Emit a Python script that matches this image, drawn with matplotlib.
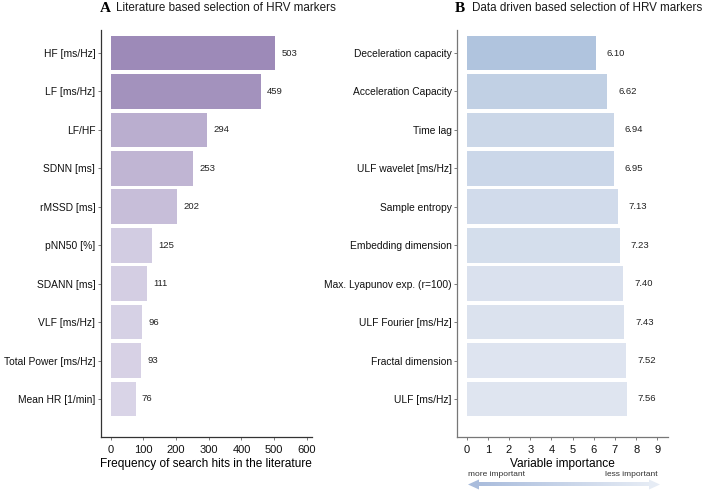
import numpy as np
import matplotlib
matplotlib.use("Agg")
import matplotlib.pyplot as plt
from matplotlib.colors import LinearSegmentedColormap
from matplotlib.patches import Polygon

# ------------------------------------------------------------
# Data
# ------------------------------------------------------------
lit_labels = ["HF [ms/Hz]", "LF [ms/Hz]", "LF/HF", "SDNN [ms]", "rMSSD [ms]",
              "pNN50 [%]", "SDANN [ms]", "VLF [ms/Hz]", "Total Power [ms/Hz]",
              "Mean HR [1/min]"]
lit_hits = [503, 459, 294, 253, 202, 125, 111, 96, 93, 76]

dd_labels = ["Deceleration capacity", "Acceleration Capacity", "Time lag",
             "ULF wavelet [ms/Hz]", "Sample entropy", "Embedding dimension",
             "Max. Lyapunov exp. (r=100)", "ULF Fourier [ms/Hz]",
             "Fractal dimension", "ULF [ms/Hz]"]
dd_importance = [6.10, 6.62, 6.94, 6.95, 7.13, 7.23, 7.40, 7.43, 7.52, 7.56]

lit_ticks = [0, 100, 200, 300, 400, 500, 600]
dd_ticks = [0, 1, 2, 3, 4, 5, 6, 7, 8, 9]

plt.rcParams["font.family"] = ["Liberation Sans", "DejaVu Sans"]

W, H = 708, 490
fig = plt.figure(figsize=(W / 100, H / 100), dpi=100)


def px_axes(x0, x1, y0, y1):
    return fig.add_axes([x0 / W, 1 - y1 / H, (x1 - x0) / W, (y1 - y0) / H])


cmap_lit = LinearSegmentedColormap.from_list("lit", ["#d9d4e7", "#9d8ab8"])
cmap_dd = LinearSegmentedColormap.from_list("dd", ["#b0c4de", "#dfe5f0"])


def panel(ax, labels, values, colors, ticks, xlim, xlabel, fmt, dx, axcol):
    y = np.arange(len(values))
    ax.barh(y, values, height=0.9, color=colors)
    for yi, v in zip(y, values):
        ax.annotate(fmt.format(v), (v, yi), xytext=(dx, 0),
                    textcoords="offset points", va="center", ha="left",
                    fontsize=6.8, color="#222222")
    ax.set_yticks(y)
    ax.set_yticklabels(labels, fontsize=7.4, color="#111111")
    ax.set_xticks(ticks)
    ax.set_xticklabels([str(t) for t in ticks], fontsize=8, color="#111111")
    ax.set_xlim(*xlim)
    ax.set_ylim(len(values) - 1 + 0.99, -0.6)
    ax.set_xlabel(xlabel, fontsize=8.6, labelpad=2)
    for s in ["top", "right"]:
        ax.spines[s].set_visible(False)
    for s in ["left", "bottom"]:
        ax.spines[s].set_color(axcol)
        ax.spines[s].set_linewidth(0.9)
    ax.tick_params(axis="both", length=2, width=0.6, color="#666666", pad=2)
    ax.tick_params(axis="x", pad=4)


vl = np.array(lit_hits, dtype=float)
col_lit = cmap_lit((vl - vl.min()) / (vl.max() - vl.min()))
vd = np.array(dd_importance)
col_dd = cmap_dd((vd - vd.min()) / (vd.max() - vd.min()))

ax1 = px_axes(100.7, 311.7, 30, 437)
panel(ax1, lit_labels, lit_hits, col_lit, lit_ticks, (-30.6, 614.7),
      "Frequency of search hits in the literature", "{:d}", 4.5, "#333333")

ax2 = px_axes(457.3, 667.7, 30, 437)
panel(ax2, dd_labels, dd_importance, col_dd, dd_ticks, (-0.44, 9.49),
      "Variable importance", "{:.2f}", 8, "#777777")

# titles
fig.text(100 / W, 1 - 9 / H, "A", fontsize=11, fontweight="bold",
         family="Liberation Serif", va="center", ha="left")
fig.text(116 / W, 1 - 8 / H, "Literature based selection of HRV markers",
         fontsize=8.4, va="center", ha="left", color="#1a1a1a")
fig.text(455 / W, 1 - 9 / H, "B", fontsize=11, fontweight="bold",
         family="Liberation Serif", va="center", ha="left")
fig.text(472 / W, 1 - 8 / H, "Data driven based selection of HRV markers",
         fontsize=8.4, va="center", ha="left", color="#1a1a1a")

# gradient double arrow under panel B
ov = fig.add_axes([0, 0, 1, 1])
ov.set_xlim(0, W)
ov.set_ylim(H, 0)
ov.axis("off")
x0, x1, ya = 468, 660, 484.5
c_left, c_right = "#a9bcdc", "#e6ecf5"
grad = np.linspace(0, 1, 256)[None, :]
cmap_arrow = LinearSegmentedColormap.from_list("arr", [c_left, c_right])
ov.imshow(grad, cmap=cmap_arrow, extent=(x0 + 8, x1 - 8, ya + 1.6, ya - 1.6),
          aspect="auto", interpolation="bilinear")
ov.add_patch(Polygon([[x0, ya], [x0 + 11, ya - 5], [x0 + 11, ya + 5]],
                     closed=True, color=c_left, lw=0))
ov.add_patch(Polygon([[x1, ya], [x1 - 11, ya - 5], [x1 - 11, ya + 5]],
                     closed=True, color=c_right, lw=0))
ov.text(468, 474.5, "more important", fontsize=6, ha="left", va="center",
        color="#333333")
ov.text(658, 474.5, "less important", fontsize=6, ha="right", va="center",
        color="#333333")

fig.savefig("out.png", dpi=100)
